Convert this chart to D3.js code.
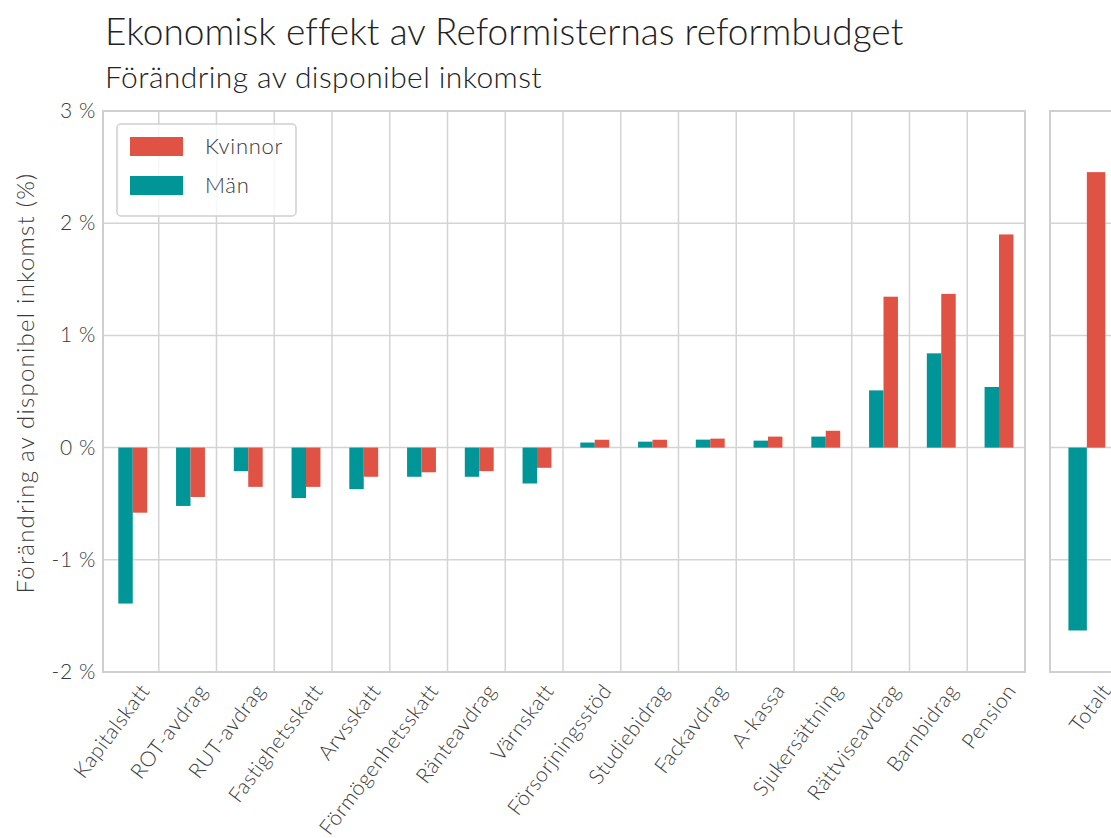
<!DOCTYPE html>
<html>
<head>
<meta charset="utf-8">
<script src="https://cdn.jsdelivr.net/npm/d3@7"></script>
<style>
  body { margin: 0; background: #fff; }
  text { font-family: Lato, "Open Sans", sans-serif; fill: #3a3a3a; }
</style>
</head>
<body>
<div class="chart"></div>
<script>
// categories (sorted as in the source chart)
var categories = ['Kapitalskatt', 'ROT-avdrag', 'RUT-avdrag', 'Fastighetsskatt', 'Arvsskatt',
    'Förmögenhetsskatt', 'Ränteavdrag', 'Värnskatt', 'Försorjningsstöd', 'Studiebidrag',
    'Fackavdrag', 'A-kassa', 'Sjukersättning', 'Rättviseavdrag', 'Barnbidrag', 'Pension'];

// change in disposable income, percent
var man     = [-1.39, -0.52, -0.21, -0.45, -0.37, -0.26, -0.26, -0.32, 0.045, 0.053, 0.071, 0.062, 0.098, 0.51, 0.84, 0.54];
var kvinnor = [-0.58, -0.44, -0.35, -0.35, -0.26, -0.22, -0.21, -0.18, 0.07, 0.07, 0.08, 0.098, 0.15, 1.345, 1.37, 1.90];

var totalLabel = ['Totalt'];
var totalMan = [-1.63];
var totalKvinnor = [2.455];

var yTicks = [-2, -1, 0, 1, 2, 3];
var seriesNames = ['Kvinnor', 'Män'];

var RED = '#df5244', TEAL = '#009597', GRID = '#d4d4d4';

var W = 1111, H = 838;
var svg = d3.select('.chart').append('svg')
    .attr('width', W)
    .attr('height', H);

// stretch a text to a given width with letter spacing
function fit(sel, target) {
    var w = sel.node().getComputedTextLength();
    var n = sel.text().length;
    sel.style('letter-spacing', ((target - w) / n) + 'px');
}

// y scale shared by both panels
var y = d3.scaleLinear().domain([-2, 3]).range([672, 111]);

// main panel: ticks sit at the right edge of each category slot
var xMain = d3.scaleLinear().domain([-0.965, categories.length - 1]).range([103, 1025]);
// right panel (total)
var xTot = d3.scaleLinear().domain([-0.95, 0]).range([1050, 1120]);

function panel(x, cats, mVals, kVals) {
    var g = svg.append('g');
    var x0 = x.range()[0], x1 = x.range()[1];

    // horizontal grid
    g.selectAll('.hg').data(yTicks).enter().append('line')
        .attr('x1', x0).attr('x2', x1)
        .attr('y1', d => y(d)).attr('y2', d => y(d))
        .attr('stroke', GRID).attr('stroke-width', 1.5);

    // vertical grid at tick positions
    g.selectAll('.vg').data(cats).enter().append('line')
        .attr('x1', (d, i) => x(i)).attr('x2', (d, i) => x(i))
        .attr('y1', y(3)).attr('y2', y(-2))
        .attr('stroke', GRID).attr('stroke-width', 1.5);

    // bars: Män left, Kvinnor right, both left of the tick
    g.selectAll('.bm').data(mVals).enter().append('rect')
        .attr('x', (d, i) => x(i - 0.7))
        .attr('width', (d, i) => x(i - 0.45) - x(i - 0.7))
        .attr('y', d => y(Math.max(0, d)))
        .attr('height', d => Math.abs(y(d) - y(0)))
        .attr('fill', TEAL);

    g.selectAll('.bk').data(kVals).enter().append('rect')
        .attr('x', (d, i) => x(i - 0.45))
        .attr('width', (d, i) => x(i - 0.2) - x(i - 0.45))
        .attr('y', d => y(Math.max(0, d)))
        .attr('height', d => Math.abs(y(d) - y(0)))
        .attr('fill', RED);

    // frame
    g.append('rect')
        .attr('x', x0).attr('y', y(3))
        .attr('width', x1 - x0).attr('height', y(-2) - y(3))
        .attr('fill', 'none').attr('stroke', '#cfcfcf').attr('stroke-width', 2);

    // rotated category labels
    g.selectAll('.xl').data(cats).enter().append('text')
        .attr('transform', (d, i) => 'translate(' + (x(i) - 8) + ',691) rotate(-53)')
        .attr('text-anchor', 'end')
        .style('font-size', '21px')
        .style('font-weight', 300)
        .style('letter-spacing', '0.5px')
        .text(d => d);
}

panel(xMain, categories, man, kvinnor);
panel(xTot, totalLabel, totalMan, totalKvinnor);

// y tick labels
svg.selectAll('.yl').data(yTicks).enter().append('text')
    .attr('x', 96)
    .attr('y', d => y(d) + 7)
    .attr('text-anchor', 'end')
    .style('font-size', '21px')
    .style('font-weight', 300)
    .style('letter-spacing', '0.6px')
    .text(d => d + ' %');

// y axis title
var yt = svg.append('text')
    .attr('transform', 'translate(34,383) rotate(-90)')
    .attr('text-anchor', 'middle')
    .style('font-size', '24px')
    .style('font-weight', 300)
    .text('Förändring av disponibel inkomst (%)');
fit(yt, 421);

// titles
var t1 = svg.append('text')
    .attr('x', 105).attr('y', 45)
    .style('font-size', '37px')
    .style('font-weight', 300)
    .style('fill', '#222')
    .text('Ekonomisk effekt av Reformisternas reformbudget');
fit(t1, 797);

var t2 = svg.append('text')
    .attr('x', 105).attr('y', 88)
    .style('font-size', '30px')
    .style('font-weight', 300)
    .style('fill', '#222')
    .text('Förändring av disponibel inkomst');
fit(t2, 437);

// legend
var lg = svg.append('g');
lg.append('rect')
    .attr('x', 117).attr('y', 124)
    .attr('width', 179).attr('height', 92)
    .attr('rx', 4)
    .attr('fill', 'white').attr('fill-opacity', 0.8)
    .attr('stroke', '#d0d0d0').attr('stroke-width', 1.5);

lg.selectAll('.lp').data(seriesNames).enter().append('rect')
    .attr('x', 130)
    .attr('y', (d, i) => 137 + i * 39)
    .attr('width', 53).attr('height', 19)
    .attr('fill', (d, i) => i === 0 ? RED : TEAL);

lg.selectAll('.lt').data(seriesNames).enter().append('text')
    .attr('x', 205)
    .attr('y', (d, i) => 154 + i * 39)
    .style('font-size', '22px')
    .style('font-weight', 300)
    .style('letter-spacing', '0.7px')
    .text(d => d);
</script>
</body>
</html>
